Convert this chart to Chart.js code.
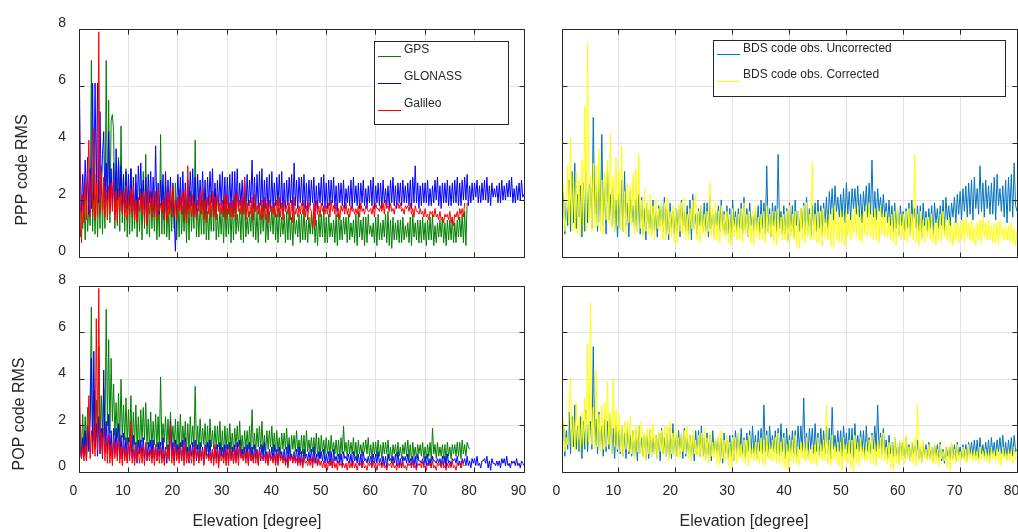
<!DOCTYPE html>
<html>
<head>
<meta charset="utf-8">
<script src="https://cdn.jsdelivr.net/npm/chart.js@4.4.0/dist/chart.umd.min.js"></script>
<style>
  body { margin: 0; background: #fff; }
  #wrap { position: relative; width: 1018px; height: 532px; }
  canvas { position: absolute; left: 0; top: 0; }
</style>
</head>
<body>
<div id="wrap">
  <canvas id="pppGnss" width="1018" height="532"></canvas>
  <canvas id="pppBds" width="1018" height="532"></canvas>
  <canvas id="popGnss" width="1018" height="532"></canvas>
  <canvas id="popBds" width="1018" height="532"></canvas>
</div>
<script>
// elevation spacing of the samples (degrees)
const STEP = 0.25;

const yTickValues = [0, 2, 4, 6, 8];
const xTicksGnss = [0, 10, 20, 30, 40, 50, 60, 70, 80, 90];
const xTicksBds = [0, 10, 20, 30, 40, 50, 60, 70, 80];

// PPP code RMS, GPS / GLONASS / Galileo (one row = 5 degrees)
const pppGps = [
  1.4, 0.7, 1.6, 1.0, 2.0, 0.6, 2.3, 0.9, 1.8, 1.1, 6.9, 0.9, 2.4, 0.8, 2.9, 0.7, 2.7, 1.0, 3.2, 0.8,
  2.6, 1.0, 6.9, 1.3, 5.5, 1.2, 4.8, 5.0, 4.4, 1.0, 3.0, 1.1, 3.5, 0.9, 4.6, 1.2, 2.8, 0.9, 3.1, 0.7,
  2.5, 0.8, 3.1, 0.9, 2.2, 1.0, 2.6, 0.7, 2.0, 0.9, 2.4, 0.6, 3.0, 1.0, 3.6, 0.8, 2.1, 0.7, 2.3, 1.0,
  2.0, 0.9, 2.2, 0.6, 1.9, 0.7, 4.3, 0.8, 2.3, 0.8, 2.5, 0.7, 1.8, 0.6, 2.0, 0.9, 2.4, 1.0, 2.6, 0.6,
  2.1, 0.7, 2.4, 0.8, 1.8, 0.9, 2.0, 0.5, 2.2, 0.6, 2.3, 0.9, 1.9, 1.0, 4.1, 0.7, 1.7, 0.7, 1.9, 0.8,
  2.0, 0.8, 2.2, 0.6, 1.6, 0.6, 1.8, 0.9, 2.1, 0.9, 2.4, 0.6, 1.5, 0.7, 1.7, 0.8, 1.8, 0.5, 2.0, 0.7,
  1.7, 0.8, 1.9, 0.5, 1.9, 0.6, 2.1, 0.8, 1.5, 0.9, 1.7, 0.6, 2.0, 0.5, 2.2, 0.7, 1.4, 0.8, 1.6, 0.9,
  1.8, 0.7, 1.9, 0.6, 1.6, 0.5, 1.8, 0.8, 1.8, 0.9, 2.0, 0.5, 1.5, 0.6, 1.6, 0.9, 1.7, 0.8, 1.9, 0.6,
  1.5, 0.5, 1.7, 0.7, 1.4, 0.8, 1.5, 0.5, 1.6, 0.6, 1.8, 0.6, 1.4, 0.4, 1.6, 0.8, 1.3, 0.7, 1.5, 0.5,
  1.5, 0.6, 1.7, 0.6, 1.3, 0.5, 1.4, 0.8, 1.5, 0.8, 1.6, 0.5, 1.3, 0.4, 1.5, 0.7, 1.5, 0.7, 1.7, 0.5,
  1.4, 0.5, 1.5, 0.7, 1.2, 0.7, 1.3, 0.5, 1.5, 0.4, 1.6, 0.6, 1.3, 0.6, 1.4, 0.8, 1.4, 0.5, 1.5, 0.6,
  1.2, 0.7, 1.3, 0.5, 1.5, 0.4, 1.6, 0.7, 1.3, 0.6, 1.4, 0.4, 1.4, 0.5, 1.5, 0.8, 1.1, 0.7, 1.2, 0.5,
  1.4, 0.4, 1.5, 0.6, 1.2, 0.6, 1.3, 0.7, 1.5, 0.5, 1.6, 0.4, 1.3, 0.3, 1.4, 0.6, 1.2, 0.6, 1.3, 0.5,
  1.3, 0.5, 1.4, 0.6, 1.1, 0.7, 1.2, 0.5, 1.4, 0.4, 1.5, 0.7, 1.2, 0.6, 1.3, 0.5, 1.3, 0.5, 1.4, 0.6,
  1.2, 0.4, 1.3, 0.6, 1.4, 0.6, 1.5, 0.4, 1.1, 0.5, 1.2, 0.7, 1.3, 0.7, 1.4, 0.5, 1.2, 0.4, 1.3, 0.6,
  1.3, 0.6, 1.4, 0.5, 1.2, 0.5, 1.3, 0.7, 1.4, 0.7, 1.5, 0.5, 1.6, 0.4, 1.9];

const pppGlonass = [
  8.0, 3.0, 1.6, 2.9, 1.8, 3.4, 2.0, 3.5, 1.5, 3.1, 1.7, 6.1, 2.0, 6.1, 2.4, 6.1, 1.9, 5.1, 2.2, 3.6,
  4.4, 1.8, 3.3, 2.0, 4.4, 1.7, 3.1, 1.8, 3.3, 1.5, 3.8, 2.0, 3.4, 2.1, 3.2, 1.6, 2.9, 1.6, 3.0, 1.7,
  2.9, 1.8, 3.1, 1.6, 2.8, 1.5, 2.9, 1.4, 3.2, 2.0, 3.3, 1.7, 2.7, 1.4, 2.8, 1.5, 2.9, 1.9, 3.0, 1.6,
  2.8, 1.6, 3.9, 1.5, 2.6, 1.5, 2.7, 1.8, 2.9, 1.3, 3.0, 1.6, 2.7, 1.7, 2.8, 1.4, 2.6, 1.4, 0.2, 1.8,
  2.9, 1.7, 2.8, 1.6, 3.0, 1.5, 2.6, 1.5, 2.7, 1.7, 3.0, 1.8, 3.1, 1.5, 2.8, 1.4, 2.9, 1.8, 2.7, 1.7,
  3.0, 1.6, 2.7, 1.5, 2.8, 1.8, 3.0, 1.9, 3.1, 1.5, 2.6, 1.6, 2.7, 1.7, 2.9, 1.8, 3.0, 1.6, 2.8, 1.5,
  2.8, 1.6, 2.9, 1.7, 3.0, 1.5, 3.0, 1.6, 3.1, 1.7, 2.6, 1.8, 2.7, 1.6, 2.8, 1.5, 2.9, 1.8, 2.7, 1.9,
  3.4, 1.7, 2.8, 1.6, 2.9, 1.7, 3.0, 1.8, 3.1, 1.6, 2.7, 1.7, 2.8, 1.5, 2.9, 1.6, 3.0, 1.7, 2.6, 1.8,
  2.8, 1.8, 2.9, 1.7, 3.0, 1.5, 2.6, 1.6, 2.7, 1.8, 2.8, 1.9, 2.9, 1.6, 3.3, 1.8, 2.7, 1.7, 2.8, 1.9,
  2.8, 1.8, 2.9, 1.7, 2.6, 1.6, 2.7, 1.8, 2.7, 1.9, 2.8, 1.6, 2.5, 1.7, 2.6, 1.9, 2.8, 1.8, 2.9, 1.7,
  2.6, 1.7, 2.7, 1.8, 2.7, 1.9, 2.8, 1.7, 2.5, 1.6, 2.6, 1.9, 2.6, 1.8, 2.7, 1.7, 2.4, 1.9, 2.5, 1.8,
  2.7, 1.7, 2.8, 1.9, 2.5, 1.8, 2.6, 1.7, 2.6, 1.9, 2.7, 1.8, 2.4, 1.7, 2.5, 1.9, 2.7, 1.8, 2.8, 1.7,
  2.5, 1.9, 2.6, 1.8, 2.6, 1.7, 2.7, 1.9, 2.4, 1.8, 2.5, 1.7, 2.7, 1.9, 2.8, 1.8, 2.5, 1.7, 2.6, 1.9,
  2.6, 1.8, 2.7, 1.9, 2.5, 1.9, 2.6, 1.8, 2.7, 1.7, 2.8, 1.9, 3.2, 1.9, 2.6, 1.7, 2.5, 1.8, 2.6, 1.9,
  2.6, 1.9, 2.7, 1.8, 2.4, 1.8, 2.5, 1.9, 2.7, 2.0, 2.8, 1.8, 2.5, 1.7, 2.6, 1.9, 2.6, 1.9, 2.7, 1.8,
  2.5, 1.8, 2.6, 1.9, 2.7, 1.9, 2.8, 1.8, 2.6, 1.8, 2.7, 2.0, 2.8, 2.0, 2.9, 1.8, 2.5, 1.9, 2.6, 2.0,
  2.6, 2.1, 2.7, 1.9, 2.5, 1.9, 2.6, 2.0, 2.7, 2.0, 2.8, 1.9, 2.5, 1.8, 2.6, 2.1, 2.4, 2.1, 2.5, 1.9,
  2.6, 1.9, 2.7, 2.0, 2.5, 2.0, 2.6, 2.1, 2.7, 2.1, 2.8, 1.9, 2.4, 1.9, 2.5, 2.0, 2.6, 2.0, 2.7, 2.1,
  2.2];

const pppGalileo = [
  7.4, 2.0, 0.5, 2.2, 1.2, 2.6, 1.3, 2.8, 4.1, 1.4, 2.9, 1.5, 4.5, 1.3, 2.6, 1.4, 7.9, 1.5, 3.0, 1.6,
  2.8, 1.4, 2.4, 1.3, 2.5, 1.5, 2.6, 1.6, 2.7, 1.3, 2.3, 1.2, 2.4, 1.6, 2.2, 1.5, 2.3, 1.4, 2.5, 1.3,
  2.2, 1.5, 2.4, 1.4, 2.5, 1.3, 2.0, 1.2, 2.1, 1.6, 2.2, 1.5, 2.3, 1.2, 2.3, 1.1, 2.4, 1.5, 2.1, 1.4,
  2.2, 1.4, 2.3, 1.3, 2.4, 1.6, 1.9, 1.5, 2.0, 1.3, 2.2, 1.2, 2.3, 1.5, 2.4, 1.4, 2.5, 1.4, 2.0, 1.3,
  2.1, 1.6, 2.2, 1.5, 2.3, 1.3, 2.4, 1.2, 3.2, 1.5, 2.1, 1.4, 2.2, 1.4, 1.9, 1.3, 2.0, 1.6, 2.3, 1.5,
  2.4, 1.3, 2.0, 1.2, 2.1, 1.5, 2.2, 1.4, 2.3, 1.4, 2.1, 1.3, 2.2, 1.6, 1.9, 1.5, 2.0, 1.4, 2.2, 1.3,
  2.2, 1.5, 1.9, 1.4, 2.0, 1.4, 2.2, 1.3, 2.3, 1.6, 2.0, 1.5, 2.1, 1.5, 2.8, 1.3, 1.9, 1.4, 2.0, 1.5,
  2.1, 1.3, 2.2, 1.6, 1.8, 1.5, 1.9, 1.3, 2.0, 1.4, 2.1, 1.3, 1.9, 1.2, 2.0, 1.6, 1.8, 1.5, 1.9, 1.4,
  2.0, 1.4, 2.1, 1.4, 1.9, 1.3, 2.0, 1.6, 1.8, 1.5, 1.9, 1.3, 2.0, 1.2, 2.1, 1.5, 1.7, 1.4, 1.8, 1.5,
  1.9, 1.5, 2.0, 1.4, 1.8, 1.3, 1.9, 1.7, 1.6, 1.0, 1.9, 1.1, 2.0, 1.5, 1.8, 1.4, 1.9, 1.6, 1.8, 1.5,
  1.8, 1.5, 1.9, 1.4, 2.0, 1.6, 1.8, 1.5, 1.9, 1.4, 1.7, 1.3, 1.8, 1.6, 1.8, 1.5, 1.9, 1.5, 1.7, 1.4,
  1.8, 1.6, 1.7, 1.5, 1.7, 1.5, 1.8, 1.4, 1.9, 1.6, 1.7, 1.5, 1.8, 1.7, 1.6, 1.6, 1.7, 1.5, 1.8, 1.4,
  1.9, 1.7, 1.7, 1.6, 1.8, 1.6, 1.9, 1.5, 2.0, 1.7, 1.8, 1.6, 1.9, 1.6, 1.7, 1.5, 1.8, 1.8, 1.9, 1.7,
  1.9, 1.6, 1.7, 1.5, 1.8, 1.7, 1.8, 1.6, 1.9, 1.5, 1.7, 1.4, 1.8, 1.6, 1.6, 1.5, 1.7, 1.5, 1.6, 1.4,
  1.7, 1.4, 1.5, 1.3, 1.6, 1.5, 1.6, 1.4, 1.7, 1.4, 1.5, 1.3, 1.6, 1.3, 1.4, 1.2, 1.5, 1.4, 1.5, 1.3,
  1.6, 1.2, 1.4, 1.1, 1.5, 1.4, 1.6, 1.3, 1.7, 1.5, 1.7, 1.4, 1.9];

// PPP code RMS, BDS
const pppBdsRaw = [
  1.5, 2.3, 0.8, 1.9, 1.1, 2.7, 0.9, 3.0, 1.2, 3.3, 1.0, 2.2, 1.4, 2.5, 0.7, 2.6, 0.9, 3.0, 1.2, 2.4,
  2.6, 1.0, 4.9, 1.5, 2.5, 0.9, 2.8, 1.2, 4.3, 1.1, 2.6, 0.8, 3.1, 1.3, 2.2, 1.1, 2.4, 0.9, 2.0, 0.7,
  2.2, 1.0, 2.7, 0.9, 3.0, 1.1, 1.9, 0.7, 2.3, 1.2, 1.8, 1.0, 2.0, 0.9, 2.2, 0.8, 2.1, 0.8, 1.7, 0.6,
  1.9, 1.0, 1.7, 0.8, 2.0, 0.9, 1.6, 0.7, 1.8, 1.1, 1.9, 0.9, 2.1, 0.8, 1.7, 0.6, 1.9, 1.0, 1.6, 0.8,
  1.7, 0.9, 1.8, 0.7, 2.0, 1.1, 1.6, 0.9, 1.8, 0.8, 2.0, 0.6, 2.2, 1.0, 1.5, 0.8, 1.7, 1.1, 1.8, 0.9,
  1.9, 0.9, 1.9, 0.7, 2.1, 1.0, 1.5, 0.8, 1.6, 1.1, 1.8, 0.9, 2.0, 0.9, 1.6, 0.7, 1.8, 0.8, 1.7, 0.6,
  2.0, 1.1, 1.6, 0.9, 1.7, 1.0, 1.9, 0.8, 2.1, 0.9, 1.7, 0.7, 1.9, 1.1, 1.5, 0.9, 1.6, 1.0, 1.8, 0.8,
  2.0, 1.0, 1.9, 0.8, 3.2, 0.9, 1.7, 0.7, 1.9, 1.1, 1.8, 0.9, 3.6, 1.0, 1.6, 0.8, 1.8, 0.8, 1.7, 0.6,
  1.9, 0.9, 1.8, 0.7, 2.0, 1.1, 1.6, 0.9, 1.7, 1.0, 1.9, 0.8, 2.1, 0.9, 1.7, 0.7, 1.8, 1.1, 1.9, 0.9,
  2.0, 1.0, 1.8, 0.8, 1.9, 1.2, 2.1, 1.0, 2.3, 1.5, 2.4, 1.3, 2.5, 1.6, 2.1, 1.4, 2.2, 1.4, 2.4, 1.2,
  2.6, 1.5, 2.3, 1.3, 2.4, 1.7, 2.4, 1.5, 2.5, 1.4, 2.2, 1.2, 2.3, 1.6, 2.5, 1.4, 2.6, 1.5, 3.4, 1.4,
  2.3, 1.3, 2.4, 1.6, 2.1, 1.4, 2.2, 1.4, 1.9, 1.2, 2.0, 1.1, 1.8, 0.9, 1.9, 1.0, 1.7, 0.8, 1.8, 1.1,
  1.6, 0.9, 1.7, 1.0, 1.9, 0.8, 2.0, 1.2, 1.7, 1.0, 1.8, 0.9, 1.8, 0.7, 1.9, 1.1, 1.6, 0.9, 1.7, 1.0,
  1.8, 0.8, 1.9, 1.2, 1.7, 1.0, 1.8, 1.1, 2.0, 0.9, 2.1, 1.3, 1.8, 1.1, 1.9, 1.4, 2.1, 1.2, 2.2, 1.5,
  2.3, 1.3, 2.4, 1.6, 2.5, 1.4, 2.6, 1.5, 2.7, 1.3, 2.8, 1.7, 2.4, 1.5, 3.2, 1.6, 2.6, 1.4, 2.7, 1.7,
  2.5, 1.5, 2.6, 1.5, 2.8, 1.3, 2.9, 1.8, 2.4, 1.6, 2.5, 1.4, 2.7, 1.2, 2.8, 1.6, 2.9, 1.4, 3.3, 1.8,
  1.6];

const pppBdsCorr = [
  1.9, 2.6, 0.9, 1.5, 3.2, 1.2, 4.2, 0.9, 2.8, 1.0, 3.0, 0.8, 2.7, 0.7, 3.4, 1.1, 5.3, 0.9, 7.5, 1.3,
  2.9, 0.9, 3.3, 1.0, 3.2, 1.1, 3.8, 0.9, 2.7, 0.8, 3.0, 1.3, 3.4, 1.2, 4.3, 1.0, 2.8, 0.9, 3.5, 1.1,
  3.0, 1.0, 3.9, 0.9, 2.3, 0.8, 2.6, 1.2, 2.5, 1.1, 2.9, 0.8, 3.1, 0.9, 3.6, 1.0, 2.0, 0.7, 2.4, 0.9,
  1.9, 0.8, 2.2, 0.7, 1.8, 0.6, 2.0, 1.0, 1.7, 0.9, 1.9, 0.6, 1.9, 0.6, 2.1, 0.8, 1.6, 0.7, 1.8, 0.5,
  1.7, 0.5, 1.9, 0.9, 1.9, 0.8, 2.1, 0.6, 1.5, 0.6, 1.7, 1.0, 2.0, 0.9, 2.2, 0.6, 1.6, 0.5, 1.8, 0.8,
  1.5, 0.7, 1.6, 0.9, 2.6, 0.7, 1.7, 0.6, 1.9, 0.6, 1.6, 0.5, 1.8, 0.8, 1.5, 0.7, 1.6, 0.5, 1.5, 0.4,
  1.7, 0.7, 1.4, 0.6, 1.5, 0.6, 1.7, 0.5, 1.9, 0.8, 1.5, 0.7, 1.6, 0.5, 1.6, 0.4, 1.8, 0.7, 1.4, 0.6,
  1.5, 0.6, 1.6, 0.5, 1.8, 0.8, 1.5, 0.7, 1.6, 0.5, 1.6, 0.4, 1.7, 0.7, 1.4, 0.6, 1.5, 0.6, 1.6, 0.5,
  1.8, 0.7, 1.5, 0.6, 1.6, 0.4, 1.6, 0.3, 1.7, 0.6, 1.8, 0.5, 1.9, 0.7, 1.5, 0.6, 3.3, 0.6, 1.5, 0.5,
  1.6, 0.5, 1.6, 0.4, 1.7, 0.7, 1.4, 0.6, 1.5, 0.4, 1.7, 0.3, 1.8, 0.6, 1.5, 0.5, 1.6, 0.5, 1.6, 0.4,
  1.7, 0.7, 1.4, 0.6, 1.5, 0.8, 1.7, 0.7, 1.8, 0.6, 1.5, 0.5, 1.6, 0.8, 1.8, 0.7, 1.9, 0.7, 1.6, 0.6,
  1.7, 0.6, 1.7, 0.5, 1.8, 0.8, 1.5, 0.7, 1.6, 0.7, 1.4, 0.6, 1.5, 0.5, 1.6, 0.4, 1.7, 0.7, 1.5, 0.6,
  1.5, 0.6, 1.6, 0.5, 1.7, 0.7, 1.5, 0.6, 3.6, 0.5, 1.5, 0.4, 1.6, 0.6, 1.3, 0.5, 1.4, 0.7, 1.4, 0.6,
  1.5, 0.5, 1.2, 0.4, 1.3, 0.6, 1.5, 0.5, 1.6, 0.7, 1.3, 0.6, 1.4, 0.5, 1.2, 0.4, 1.3, 0.6, 1.2, 0.5,
  1.2, 0.6, 1.3, 0.5, 1.4, 0.7, 1.2, 0.6, 1.3, 0.5, 1.1, 0.4, 1.2, 0.6, 1.3, 0.5, 1.4, 0.7, 1.2, 0.6,
  1.3, 0.6, 1.1, 0.5, 1.2, 0.5, 1.2, 0.4, 1.3, 0.7, 1.0, 0.6, 1.1, 0.6, 1.1, 0.5, 1.2, 0.5, 1.0, 0.4,
  0.9];

// POP code RMS, GPS / GLONASS / Galileo
const popGps = [
  1.2, 2.0, 0.9, 2.5, 0.8, 2.4, 1.1, 2.8, 1.0, 3.0, 7.1, 1.3, 3.5, 1.0, 3.1, 1.2, 5.4, 1.4, 3.3, 1.5,
  3.6, 1.6, 7.0, 2.0, 5.7, 1.7, 4.9, 2.2, 3.8, 1.6, 3.0, 1.5, 3.4, 1.3, 4.0, 1.5, 2.9, 1.4, 3.2, 1.2,
  2.7, 1.3, 3.3, 1.1, 2.6, 1.2, 2.9, 1.0, 2.4, 1.0, 2.7, 1.3, 2.8, 1.4, 3.0, 1.2, 2.3, 1.1, 2.6, 1.0,
  2.2, 1.2, 2.5, 1.1, 2.4, 1.0, 4.1, 1.2, 2.1, 1.3, 2.4, 1.0, 2.3, 0.9, 2.6, 1.2, 2.0, 1.1, 2.3, 0.9,
  2.2, 1.0, 2.5, 1.1, 2.0, 1.2, 2.2, 0.9, 2.1, 0.9, 2.4, 1.2, 2.0, 1.1, 3.7, 1.0, 2.0, 1.0, 2.3, 1.1,
  1.9, 1.2, 2.1, 0.9, 2.0, 0.9, 2.3, 1.1, 1.8, 1.0, 2.0, 1.0, 2.0, 1.1, 2.2, 0.9, 1.8, 0.8, 2.0, 1.0,
  1.9, 1.0, 2.1, 1.0, 1.7, 0.9, 1.9, 1.1, 2.0, 1.1, 2.2, 0.9, 1.6, 0.8, 1.8, 1.0, 1.8, 1.0, 2.0, 0.9,
  2.7, 1.0, 1.7, 0.9, 1.9, 1.1, 2.0, 1.0, 2.2, 0.9, 1.6, 0.8, 1.8, 1.0, 1.8, 1.1, 2.0, 0.9, 1.7, 0.9,
  1.8, 0.9, 1.5, 0.8, 1.7, 1.0, 1.7, 1.0, 1.9, 0.8, 1.5, 0.7, 1.6, 1.0, 1.6, 0.9, 1.8, 0.9, 1.4, 0.8,
  1.6, 0.8, 1.6, 0.7, 1.8, 0.9, 1.4, 0.9, 1.5, 0.9, 1.5, 0.8, 1.7, 0.7, 1.5, 0.6, 1.6, 0.9, 1.4, 0.8,
  1.5, 0.8, 1.4, 0.7, 1.6, 0.9, 1.3, 0.8, 1.4, 0.7, 1.4, 0.6, 1.5, 0.8, 2.0, 0.9, 1.3, 0.7, 1.4, 0.8,
  1.3, 0.8, 1.5, 0.7, 1.3, 0.6, 1.4, 0.8, 1.2, 0.7, 1.3, 0.9, 1.4, 0.8, 1.5, 0.7, 1.2, 0.6, 1.3, 0.8,
  1.3, 0.7, 1.4, 0.7, 1.2, 0.6, 1.3, 0.8, 1.3, 0.8, 1.4, 0.6, 1.1, 0.5, 1.2, 0.8, 1.2, 0.7, 1.3, 0.7,
  1.1, 0.6, 1.2, 0.8, 1.3, 0.7, 1.4, 0.6, 1.2, 0.5, 1.3, 0.7, 1.1, 0.6, 1.2, 0.8, 1.2, 0.7, 1.3, 0.6,
  1.1, 0.6, 1.2, 0.7, 1.3, 0.5, 1.9, 0.8, 1.2, 0.6, 1.3, 0.7, 1.1, 0.7, 1.2, 0.6, 1.2, 0.5, 1.3, 0.7,
  1.1, 0.6, 1.2, 0.8, 1.2, 0.7, 1.3, 0.7, 1.3, 0.6, 1.4, 0.8, 1.2, 0.7, 1.3, 1.1, 1.0];

const popGlonass = [
  4.2, 1.0, 0.6, 1.5, 0.7, 1.8, 0.5, 2.0, 0.9, 2.2, 4.9, 0.8, 5.2, 1.1, 2.1, 0.7, 2.4, 0.8, 1.9, 0.6,
  4.4, 0.9, 2.2, 0.8, 2.5, 0.7, 1.8, 0.5, 1.9, 0.8, 1.9, 0.7, 2.1, 0.6, 1.6, 0.6, 1.7, 0.7, 1.5, 0.5,
  1.5, 0.7, 1.4, 0.6, 1.6, 0.5, 1.3, 0.4, 1.4, 0.8, 1.4, 0.7, 1.5, 0.6, 1.2, 0.5, 1.3, 0.7, 1.4, 0.6,
  1.4, 0.6, 1.2, 0.5, 1.3, 0.7, 1.3, 0.6, 1.5, 0.5, 1.1, 0.4, 1.2, 0.6, 2.2, 0.7, 1.3, 0.5, 1.4, 0.6,
  1.2, 0.6, 1.3, 0.5, 1.4, 0.5, 1.5, 0.6, 1.1, 0.4, 1.2, 0.7, 1.3, 0.6, 1.4, 0.5, 1.2, 0.5, 1.3, 0.6,
  1.1, 0.4, 1.2, 0.7, 1.3, 0.6, 1.4, 0.5, 1.0, 0.5, 1.1, 0.6, 1.2, 0.4, 1.3, 0.7, 1.1, 0.6, 1.2, 0.5,
  1.2, 0.5, 1.3, 0.6, 1.1, 0.4, 1.2, 0.5, 1.3, 0.6, 1.4, 0.7, 1.0, 0.5, 1.1, 0.6, 1.2, 0.4, 1.3, 0.5,
  1.1, 0.5, 1.2, 0.6, 1.0, 0.4, 1.1, 0.5, 1.2, 0.6, 1.3, 0.5, 0.9, 0.4, 1.0, 0.6, 1.1, 0.5, 1.2, 0.4,
  1.0, 0.4, 1.1, 0.6, 0.9, 0.5, 1.0, 0.4, 1.1, 0.3, 1.2, 0.6, 0.8, 0.5, 0.9, 0.5, 1.0, 0.4, 1.1, 0.4,
  0.9, 0.3, 1.0, 0.6, 0.8, 0.5, 0.9, 0.5, 1.0, 0.4, 1.1, 0.4, 0.8, 0.3, 0.9, 0.6, 0.9, 0.5, 1.0, 0.4,
  0.8, 0.4, 0.9, 0.3, 0.9, 0.2, 1.0, 0.5, 0.7, 0.4, 0.8, 0.4, 0.8, 0.3, 0.9, 0.6, 0.7, 0.5, 0.8, 0.4,
  0.8, 0.3, 0.9, 0.5, 0.7, 0.4, 0.8, 0.3, 0.8, 0.2, 0.9, 0.5, 0.6, 0.4, 0.7, 0.4, 0.7, 0.3, 0.8, 0.4,
  0.8, 0.4, 0.9, 0.4, 0.6, 0.3, 0.7, 0.3, 0.7, 0.2, 0.8, 0.5, 0.6, 0.4, 0.7, 0.4, 0.8, 0.3, 0.9, 0.3,
  0.6, 0.2, 0.7, 0.5, 0.7, 0.4, 0.8, 0.4, 0.6, 0.3, 0.7, 0.3, 0.7, 0.2, 0.8, 0.5, 0.5, 0.4, 0.6, 0.3,
  0.7, 0.3, 0.8, 0.3, 0.6, 0.2, 0.7, 0.5, 0.5, 0.4, 0.6, 0.4, 0.6, 0.3, 0.7, 0.3, 0.7, 0.2, 0.8, 0.4,
  0.5, 0.3, 0.6, 0.5, 0.6, 0.4, 0.7, 0.3, 0.5, 0.2, 0.6, 0.4, 0.6, 0.3, 0.7, 0.3, 0.5, 0.2, 0.6, 0.4,
  0.6, 0.3, 0.7, 0.3, 0.4, 0.2, 0.5, 0.5, 0.6, 0.4, 0.7, 0.2, 0.5, 0.1, 0.6, 0.4, 0.4, 0.3, 0.5, 0.3,
  0.5, 0.2, 0.6, 0.4, 0.6, 0.3, 0.7, 0.3, 0.4, 0.2, 0.5, 0.4, 0.5, 0.3, 0.6, 0.3, 0.4, 0.2, 0.5, 0.4,
  0.3];

const popGalileo = [
  8.0, 1.0, 0.6, 1.1, 0.5, 1.2, 0.5, 1.5, 3.3, 0.6, 1.8, 0.8, 2.0, 0.7, 6.6, 1.0, 7.9, 0.9, 1.7, 0.7,
  1.9, 0.5, 1.5, 0.4, 1.6, 0.4, 1.2, 0.3, 1.4, 0.6, 1.3, 0.5, 1.5, 0.4, 1.1, 0.3, 1.2, 0.5, 1.0, 0.4,
  1.3, 0.5, 2.2, 0.4, 1.0, 0.3, 1.2, 0.5, 1.0, 0.4, 1.1, 0.4, 1.1, 0.3, 1.3, 0.6, 0.9, 0.5, 1.0, 0.4,
  1.0, 0.3, 1.2, 0.5, 1.0, 0.4, 1.1, 0.4, 0.9, 0.3, 1.0, 0.6, 1.1, 0.5, 2.1, 0.4, 1.0, 0.3, 1.2, 0.5,
  1.0, 0.4, 1.1, 0.5, 1.1, 0.3, 1.3, 0.4, 0.9, 0.5, 1.0, 0.4, 1.0, 0.3, 1.2, 0.6, 0.9, 0.4, 1.0, 0.5,
  1.0, 0.3, 1.1, 0.6, 0.8, 0.5, 0.9, 0.4, 1.0, 0.3, 1.2, 0.4, 0.9, 0.2, 1.0, 0.5, 0.8, 0.4, 0.9, 0.3,
  1.0, 0.3, 1.1, 0.5, 0.9, 0.4, 1.0, 0.4, 1.0, 0.3, 1.2, 0.6, 0.8, 0.5, 0.9, 0.4, 0.9, 0.3, 1.0, 0.5,
  0.8, 0.4, 0.9, 0.4, 0.9, 0.3, 1.0, 0.6, 0.7, 0.5, 0.8, 0.4, 0.8, 0.3, 0.9, 0.5, 0.7, 0.4, 0.8, 0.3,
  0.8, 0.3, 0.9, 0.5, 0.7, 0.4, 0.8, 0.3, 0.6, 0.2, 0.7, 0.5, 0.7, 0.4, 0.8, 0.4, 0.6, 0.3, 0.7, 0.3,
  0.6, 0.2, 0.7, 0.4, 0.5, 0.3, 0.6, 0.3, 0.6, 0.2, 0.7, 0.4, 0.5, 0.3, 0.6, 0.3, 0.5, 0.2, 0.5, 0.2,
  0.4, 0.1, 0.5, 0.3, 0.5, 0.2, 0.6, 0.2, 0.4, 0.1, 0.5, 0.3, 0.4, 0.2, 0.4, 0.2, 0.4, 0.1, 0.5, 0.2,
  0.4, 0.2, 0.5, 0.2, 0.4, 0.1, 0.4, 0.3, 0.4, 0.2, 0.5, 0.2, 0.3, 0.1, 0.4, 0.3, 0.4, 0.2, 0.5, 0.2,
  0.4, 0.1, 0.4, 0.3, 0.4, 0.2, 0.5, 0.2, 0.3, 0.1, 0.4, 0.3, 0.4, 0.2, 0.5, 0.2, 0.3, 0.1, 0.4, 0.2,
  0.4, 0.2, 0.5, 0.2, 0.3, 0.1, 0.4, 0.3, 0.4, 0.2, 0.5, 0.2, 0.3, 0.1, 0.4, 0.3, 0.4, 0.2, 0.5, 0.2,
  0.3, 0.1, 0.4, 0.3, 0.4, 0.2, 0.5, 0.2, 0.3, 0.1, 0.4, 0.3, 0.4, 0.2, 0.5, 0.2, 0.3, 0.1, 0.4, 0.2,
  0.4, 0.2, 0.5, 0.2, 0.3, 0.1, 0.4, 0.3, 0.4, 0.2, 0.5, 0.3, 0.3];

// POP code RMS, BDS
const popBdsRaw = [
  1.5, 2.2, 0.7, 1.8, 1.0, 2.6, 0.8, 2.4, 1.1, 2.9, 1.0, 2.0, 0.9, 2.4, 0.6, 2.2, 1.0, 2.7, 0.9, 2.1,
  2.2, 1.0, 5.4, 1.2, 2.3, 0.8, 2.6, 1.0, 2.0, 0.7, 2.3, 0.9, 2.2, 1.0, 2.5, 0.8, 1.9, 0.6, 2.1, 0.9,
  1.8, 0.8, 2.0, 0.7, 1.7, 0.6, 1.9, 0.8, 1.6, 0.7, 1.8, 0.6, 1.8, 0.5, 2.0, 0.8, 1.5, 0.7, 1.7, 0.6,
  1.6, 0.6, 1.8, 0.7, 1.5, 0.8, 1.6, 0.6, 1.7, 0.5, 1.9, 0.8, 1.5, 0.7, 1.7, 0.6, 1.9, 0.6, 2.1, 0.8,
  1.6, 0.7, 1.8, 0.8, 1.7, 0.6, 1.9, 0.7, 1.5, 0.8, 1.6, 0.6, 1.6, 0.5, 1.8, 0.8, 1.8, 0.7, 2.0, 0.7,
  1.5, 0.6, 1.7, 0.7, 1.6, 0.5, 1.8, 0.9, 1.4, 0.8, 1.5, 0.5, 1.5, 0.4, 1.7, 0.8, 1.4, 0.6, 1.6, 0.7,
  1.6, 0.5, 1.8, 0.8, 1.7, 0.7, 1.9, 0.8, 1.5, 0.6, 1.7, 0.9, 1.8, 0.8, 2.0, 0.8, 1.6, 0.6, 1.8, 0.9,
  1.9, 0.8, 2.9, 0.9, 1.8, 0.7, 2.0, 1.0, 1.6, 0.9, 1.8, 0.8, 1.9, 0.7, 2.1, 0.9, 1.7, 0.6, 1.9, 0.9,
  1.6, 0.8, 1.8, 0.8, 1.8, 0.6, 2.0, 1.0, 2.0, 0.9, 3.2, 0.9, 1.7, 0.7, 1.9, 1.0, 1.9, 0.8, 2.1, 0.9,
  1.7, 0.7, 1.9, 0.9, 1.8, 0.8, 2.0, 0.8, 1.9, 0.6, 2.8, 1.0, 1.6, 0.9, 1.8, 0.9, 1.8, 0.7, 2.0, 1.0,
  1.7, 0.8, 1.9, 0.8, 1.9, 0.6, 2.1, 1.0, 1.6, 0.9, 1.8, 0.9, 1.8, 0.7, 2.0, 0.9, 1.5, 0.8, 1.7, 1.0,
  2.0, 0.9, 2.9, 1.0, 1.7, 0.8, 1.9, 0.8, 1.4, 0.6, 1.6, 0.8, 1.3, 0.7, 1.5, 0.7, 1.2, 0.5, 1.4, 0.7,
  1.3, 0.6, 1.5, 0.7, 1.2, 0.5, 1.3, 0.8, 1.2, 0.7, 1.4, 0.6, 1.1, 0.5, 1.2, 0.7, 1.2, 0.6, 1.3, 0.6,
  1.1, 0.5, 1.2, 0.7, 1.2, 0.6, 1.3, 0.5, 1.0, 0.4, 1.1, 0.7, 1.1, 0.6, 1.2, 0.6, 1.2, 0.5, 1.3, 0.7,
  1.1, 0.6, 1.2, 0.6, 1.2, 0.5, 1.3, 0.8, 1.3, 0.7, 1.4, 0.7, 1.4, 0.6, 1.5, 0.8, 1.2, 0.7, 1.3, 0.7,
  1.4, 0.6, 1.5, 0.8, 1.3, 0.7, 1.4, 0.9, 1.5, 0.8, 1.6, 0.7, 1.3, 0.6, 1.4, 0.8, 1.5, 0.7, 1.6, 0.9,
  1.0];

const popBdsCorr = [
  1.6, 2.3, 0.9, 1.5, 1.2, 2.8, 4.1, 1.0, 2.4, 1.0, 3.0, 1.1, 2.3, 0.8, 2.6, 1.2, 3.2, 1.1, 5.5, 1.3,
  7.3, 1.2, 2.8, 1.0, 4.4, 1.1, 2.5, 0.9, 2.9, 1.0, 3.0, 1.1, 3.9, 1.2, 2.6, 0.8, 4.0, 1.1, 2.7, 1.0,
  2.5, 0.9, 2.0, 0.7, 2.2, 1.0, 2.2, 0.9, 2.4, 0.8, 1.8, 0.6, 2.0, 0.9, 2.0, 0.8, 2.2, 0.7, 1.7, 0.5,
  1.9, 0.8, 1.9, 0.7, 2.1, 0.8, 1.6, 0.6, 1.8, 0.9, 1.8, 0.8, 2.0, 0.7, 2.0, 0.5, 2.2, 0.8, 1.7, 0.7,
  1.9, 0.7, 1.5, 0.6, 1.7, 0.9, 1.8, 0.8, 2.0, 0.6, 1.6, 0.5, 1.8, 0.8, 1.4, 0.7, 1.6, 0.7, 1.7, 0.6,
  1.9, 0.5, 1.5, 0.4, 1.7, 0.7, 1.3, 0.6, 1.5, 0.4, 1.6, 0.3, 1.8, 0.6, 1.4, 0.5, 1.6, 0.3, 1.3, 0.2,
  1.5, 0.5, 1.5, 0.4, 1.7, 0.6, 1.2, 0.5, 1.4, 0.4, 1.4, 0.3, 1.6, 0.6, 1.1, 0.5, 1.3, 0.5, 1.3, 0.4,
  1.5, 0.4, 1.4, 0.3, 1.6, 0.6, 1.2, 0.5, 1.4, 0.5, 1.5, 0.4, 1.7, 0.4, 1.3, 0.3, 1.5, 0.2, 1.2, 0.1,
  1.4, 0.5, 1.4, 0.4, 1.6, 0.4, 1.1, 0.3, 1.3, 0.6, 1.3, 0.5, 1.5, 0.5, 1.0, 0.4, 1.2, 0.4, 1.2, 0.3,
  1.5, 0.6, 1.2, 0.5, 1.4, 0.5, 2.9, 0.4, 1.4, 0.3, 1.6, 0.5, 1.1, 0.4, 1.3, 0.3, 1.3, 0.1, 1.5, 0.5,
  1.2, 0.4, 1.4, 0.2, 1.4, 0.0, 1.6, 0.4, 1.3, 0.3, 1.5, 0.6, 1.1, 0.5, 1.3, 0.5, 1.4, 0.4, 1.6, 0.4,
  1.2, 0.3, 1.4, 0.6, 1.5, 0.5, 1.7, 0.5, 1.1, 0.4, 1.3, 0.2, 1.3, 0.1, 1.5, 0.4, 1.2, 0.3, 1.4, 0.5,
  1.4, 0.4, 1.6, 0.6, 1.1, 0.5, 1.3, 0.4, 1.5, 0.3, 2.9, 0.5, 1.2, 0.4, 1.4, 0.6, 1.0, 0.5, 1.2, 0.5,
  1.1, 0.4, 1.3, 0.4, 1.0, 0.3, 1.2, 0.6, 0.9, 0.5, 1.1, 0.2, 1.1, 0.1, 1.3, 0.5, 1.0, 0.4, 1.2, 0.5,
  0.9, 0.5, 1.1, 0.5, 1.0, 0.4, 1.2, 0.6, 0.9, 0.5, 1.0, 0.5, 0.9, 0.4, 1.1, 0.6, 0.9, 0.5, 1.0, 0.5,
  0.9, 0.4, 1.1, 0.6, 0.9, 0.5, 1.0, 0.4, 0.9, 0.3, 1.1, 0.6, 0.9, 0.5, 1.0, 0.5, 0.9, 0.4, 1.1, 0.6,
  0.7];

const INK = '#262626';
const GRID = '#e3e3e3';
Chart.defaults.font.family = "'Liberation Sans', Arial, sans-serif";
Chart.defaults.color = INK;

const toPoints = vals => vals.map((v, i) => ({ x: i * STEP, y: v }));

function alignPx(p) {
  return Math.round(p - 0.5) + 0.5;
}

// box, inward ticks, legend and axis titles in the MATLAB style
const panelDecor = {
  id: 'panelDecor',
  afterDatasetsDraw(chart) {
    const { ctx, chartArea: a } = chart;
    const xs = chart.scales.x, ys = chart.scales.y;
    const L = alignPx(a.left), R = alignPx(a.right), T = alignPx(a.top), B = alignPx(a.bottom);
    ctx.save();
    ctx.strokeStyle = INK;
    ctx.lineWidth = 1;
    ctx.beginPath();
    xs.ticks.forEach(t => {
      const px = alignPx(xs.getPixelForValue(t.value));
      ctx.moveTo(px, B); ctx.lineTo(px, B - 5);
      ctx.moveTo(px, T); ctx.lineTo(px, T + 5);
    });
    ys.ticks.forEach(t => {
      const py = alignPx(ys.getPixelForValue(t.value));
      ctx.moveTo(L, py); ctx.lineTo(L + 5, py);
      ctx.moveTo(R, py); ctx.lineTo(R - 5, py);
    });
    ctx.rect(L, T, R - L, B - T);
    ctx.stroke();
    ctx.restore();
  },
  afterDraw(chart, args, opts) {
    const { ctx } = chart;
    ctx.save();
    const lg = opts.legend;
    if (lg) {
      ctx.fillStyle = '#fff';
      ctx.fillRect(lg.box[0], lg.box[1], lg.box[2] - lg.box[0], lg.box[3] - lg.box[1]);
      ctx.strokeStyle = INK;
      ctx.lineWidth = 1;
      ctx.strokeRect(lg.box[0] + 0.5, lg.box[1] + 0.5, lg.box[2] - lg.box[0], lg.box[3] - lg.box[1]);
      ctx.font = "12px 'Liberation Sans', Arial, sans-serif";
      ctx.textAlign = 'left';
      ctx.textBaseline = 'middle';
      chart.data.datasets.forEach((ds, i) => {
        const y = lg.rows[i];
        ctx.strokeStyle = ds.borderColor;
        ctx.beginPath();
        ctx.moveTo(lg.line[0], Math.round(y + 5.5) + 0.5);
        ctx.lineTo(lg.line[1], Math.round(y + 5.5) + 0.5);
        ctx.stroke();
        ctx.fillStyle = INK;
        ctx.fillText(ds.label, lg.textX, y);
      });
    }
    ctx.fillStyle = INK;
    ctx.font = "16px 'Liberation Sans', Arial, sans-serif";
    ctx.textAlign = 'center';
    ctx.textBaseline = 'middle';
    (opts.titles || []).forEach(t => {
      ctx.save();
      ctx.translate(t.x, t.y);
      if (t.rotate) ctx.rotate(-Math.PI / 2);
      ctx.fillText(t.text, 0, 0);
      ctx.restore();
    });
    ctx.restore();
  }
};

const panels = [
  {
    id: 'pppGnss', area: { left: 79, right: 524, top: 29, bottom: 257 },
    xMax: 90, xTicks: xTicksGnss, xLabels: false, yLabels: true,
    series: [
      { label: 'GPS', data: pppGps, color: '#008000', order: 2 },
      { label: 'GLONASS', data: pppGlonass, color: '#0000ff', order: 1 },
      { label: 'Galileo', data: pppGalileo, color: '#ff0000', order: 0 }
    ],
    legend: { box: [374, 41, 508, 124], line: [378, 401], textX: 404, rows: [50, 77, 104] },
    titles: [{ text: 'PPP code RMS', x: 23, y: 170, rotate: true }]
  },
  {
    id: 'pppBds', area: { left: 562, right: 1017, top: 29, bottom: 257 },
    xMax: 80, xTicks: xTicksBds, xLabels: false, yLabels: false,
    series: [
      { label: 'BDS code obs. Uncorrected', data: pppBdsRaw, color: '#0072bd', order: 1 },
      { label: 'BDS code obs. Corrected', data: pppBdsCorr, color: '#ffff00', order: 0 }
    ],
    legend: { box: [713, 40, 1005, 96], line: [717, 740], textX: 743, rows: [48.5, 75] },
    titles: []
  },
  {
    id: 'popGnss', area: { left: 79, right: 524, top: 286, bottom: 472.6 },
    xMax: 90, xTicks: xTicksGnss, xLabels: true, yLabels: true,
    series: [
      { label: 'GPS', data: popGps, color: '#008000', order: 2 },
      { label: 'GLONASS', data: popGlonass, color: '#0000ff', order: 1 },
      { label: 'Galileo', data: popGalileo, color: '#ff0000', order: 0 }
    ],
    legend: null,
    titles: [
      { text: 'POP code RMS', x: 20, y: 414, rotate: true },
      { text: 'Elevation [degree]', x: 257, y: 522 }
    ]
  },
  {
    id: 'popBds', area: { left: 562, right: 1017, top: 286, bottom: 472.6 },
    xMax: 80, xTicks: xTicksBds, xLabels: true, yLabels: false,
    series: [
      { label: 'BDS code obs. Uncorrected', data: popBdsRaw, color: '#0072bd', order: 1 },
      { label: 'BDS code obs. Corrected', data: popBdsCorr, color: '#ffff00', order: 0 }
    ],
    legend: null,
    titles: [{ text: 'Elevation [degree]', x: 744, y: 522 }]
  }
];

function makePanel(p) {
  const yWidth = p.yLabels ? p.area.left : 20;
  const xHeight = 30;
  return new Chart(document.getElementById(p.id), {
    type: 'line',
    data: {
      datasets: p.series.map(s => ({
        label: s.label,
        data: toPoints(s.data),
        borderColor: s.color,
        backgroundColor: s.color,
        borderWidth: 1,
        pointRadius: 0,
        tension: 0,
        fill: false,
        order: s.order
      }))
    },
    options: {
      responsive: false,
      devicePixelRatio: 1,
      animation: false,
      parsing: false,
      layout: {
        padding: {
          left: p.area.left - yWidth,
          top: p.area.top,
          right: 1018 - p.area.right,
          bottom: 532 - p.area.bottom - xHeight
        }
      },
      scales: {
        x: {
          type: 'linear', min: 0, max: p.xMax,
          afterBuildTicks: s => { s.ticks = p.xTicks.map(v => ({ value: v })); },
          afterFit: s => { s.height = xHeight; s.paddingLeft = 0; s.paddingRight = 0; },
          grid: { color: GRID, drawTicks: false },
          border: { display: false },
          ticks: { display: p.xLabels, padding: 10, labelOffset: -5.5, maxRotation: 0, autoSkip: false, font: { size: 14 }, color: INK }
        },
        y: {
          type: 'linear', min: 0, max: 8,
          afterBuildTicks: s => { s.ticks = yTickValues.map(v => ({ value: v })); },
          afterFit: s => { s.width = yWidth; s.paddingTop = 0; s.paddingBottom = 0; },
          grid: { color: GRID, drawTicks: false },
          border: { display: false },
          ticks: { display: p.yLabels, padding: 13, labelOffset: -6, font: { size: 14 }, color: INK }
        }
      },
      plugins: {
        legend: { display: false },
        tooltip: { enabled: false },
        panelDecor: { legend: p.legend, titles: p.titles }
      }
    },
    plugins: [panelDecor]
  });
}

panels.forEach(makePanel);
</script>
</body>
</html>
